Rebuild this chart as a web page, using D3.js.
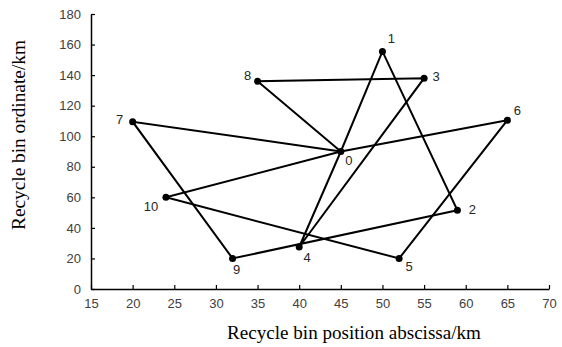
<!DOCTYPE html>
<html lang="en">
  <head>
    <meta charset="UTF-8" />
    <script src="https://d3js.org/d3.v7.min.js"></script>
    <title>Recycle bin routes</title>
    <style>
      body { margin: 0; background: #fff; }
      .tick text { font-family: "Liberation Sans", Arial, sans-serif; font-size: 13px; fill: #404040; }
    </style>
  </head>
  <body>
    <script>
      // bin ids and coordinates (km)
      const ids = [0, 1, 2, 3, 4, 5, 6, 7, 8, 9, 10];
      const xs = [45, 50, 59, 55, 40, 52, 65, 20, 35, 32, 24];
      const ys = [90, 155.5, 51.5, 138, 27.5, 20, 110.5, 109.5, 136, 20, 60];
      // routes starting/ending at depot 0
      const routes = [
        [0, 1, 2, 9, 7, 0],
        [0, 8, 3, 4, 0],
        [0, 6, 5, 10, 0]
      ];
      const xTicks = [15, 20, 25, 30, 35, 40, 45, 50, 55, 60, 65, 70];
      const yTicks = [0, 20, 40, 60, 80, 100, 120, 140, 160, 180];

      const svg = d3.select("body").append("svg")
        .attr("width", 562).attr("height", 347);

      const x = d3.scaleLinear().domain([15, 70]).range([91, 549]);
      const y = d3.scaleLinear().domain([0, 180]).range([289, 14]);

      const xAxis = d3.axisBottom(x).tickValues(xTicks).tickSizeInner(-4).tickSizeOuter(0).tickPadding(10);
      const yAxis = d3.axisLeft(y).tickValues(yTicks).tickSizeInner(-4).tickSizeOuter(0).tickPadding(10);

      const gx = svg.append("g").attr("transform", "translate(0,289)").call(xAxis);
      const gy = svg.append("g").attr("transform", "translate(91,0)").call(yAxis);
      [gx, gy].forEach((g) => {
        g.select(".domain").attr("stroke", "#000").attr("stroke-width", 1.5);
        g.selectAll(".tick line").attr("stroke", "#000").attr("stroke-width", 1.2);
      });

      const line = d3.line().x((i) => x(xs[i])).y((i) => y(ys[i]));
      svg.selectAll("path.route")
        .data(routes)
        .join("path")
        .attr("class", "route")
        .attr("d", line)
        .attr("fill", "none")
        .attr("stroke", "#000")
        .attr("stroke-width", 2);

      svg.selectAll("circle")
        .data(ids)
        .join("circle")
        .attr("cx", (i) => x(xs[i]))
        .attr("cy", (i) => y(ys[i]))
        .attr("r", 3.5)
        .attr("fill", "#000");

      // label offsets [dx, dy] per bin
      const off = {
        0: [8, 13], 1: [9, -8], 2: [15, 4], 3: [12, 3], 4: [8, 15], 5: [10, 13],
        6: [10, -5], 7: [-13, 2], 8: [-10, -1], 9: [4, 16], 10: [-15, 14]
      };
      svg.selectAll("text.lbl")
        .data(ids)
        .join("text")
        .attr("class", "lbl")
        .attr("x", (i) => x(xs[i]) + off[i][0])
        .attr("y", (i) => y(ys[i]) + off[i][1])
        .attr("text-anchor", "middle")
        .attr("font-family", "Liberation Sans, Arial, sans-serif")
        .attr("font-size", 13)
        .attr("fill", "#262626")
        .text((d) => d);

      // fit a title to the width seen in the reference
      function fit(t, target) {
        const w = t.node().getComputedTextLength();
        t.attr("font-size", 18 * target / w);
      }

      const xt = svg.append("text")
        .attr("x", 354).attr("y", 339)
        .attr("text-anchor", "middle")
        .attr("font-family", "Liberation Serif, Times New Roman, serif")
        .attr("font-size", 18)
        .text("Recycle bin position abscissa/km");
      fit(xt, 254);

      const yt = svg.append("text")
        .attr("transform", "translate(25,135) rotate(-90)")
        .attr("text-anchor", "middle")
        .attr("font-family", "Liberation Serif, Times New Roman, serif")
        .attr("font-size", 18)
        .text("Recycle bin ordinate/km");
      fit(yt, 190);
    </script>
  </body>
</html>
